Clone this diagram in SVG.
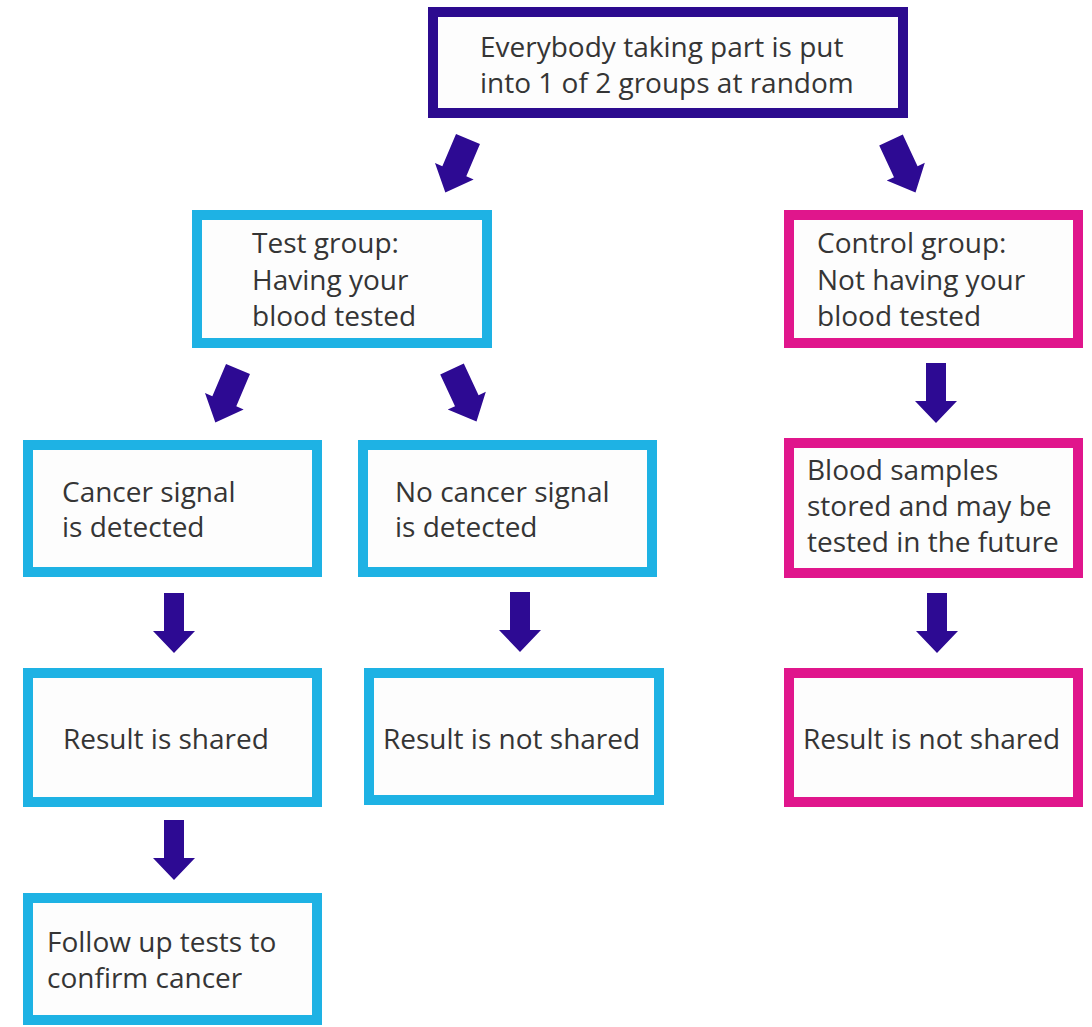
<svg xmlns="http://www.w3.org/2000/svg" width="1092" height="1027" viewBox="0 0 1092 1027">
  <style>
    .box { fill: #fdfdfd; stroke-width: 10; }
    .purple { stroke: #2c0b8f; }
    .cyan { stroke: #1eb2e4; }
    .pink { stroke: #e0168c; }
    .label { font-family: "Open Sans", "Liberation Sans", sans-serif; font-size: 28px; fill: #353535; }
    .arrow { fill: #2d0a93; }
  </style>
  <defs>
    <!-- block arrow pointing down, origin at top centre of shaft -->
    <path id="arrowDown" d="M -10 0 H 10 V 38 H 21 L 0 60 L -21 38 H -10 Z"/>
    <!-- wider block arrow used for the slanted connectors -->
    <path id="arrowSlant" d="M -13 0 H 13 V 35 H 21 L 0 58 L -21 35 H -13 Z"/>
  </defs>
  <rect width="1092" height="1027" fill="#ffffff"/>

  <g id="start">
    <rect class="box purple" x="433" y="12" width="470" height="101"/>
    <text class="label" x="480" y="57">Everybody taking part is put</text>
    <text class="label" x="480" y="93">into 1 of 2 groups at random</text>
  </g>

  <g id="test-group">
    <rect class="box cyan" x="197" y="215" width="290" height="128"/>
    <text class="label" x="252" y="253">Test group:</text>
    <text class="label" x="252" y="290">Having your</text>
    <text class="label" x="252" y="326">blood tested</text>
  </g>

  <g id="control-group">
    <rect class="box pink" x="789" y="215" width="289" height="128"/>
    <text class="label" x="817" y="253">Control group:</text>
    <text class="label" x="817" y="290">Not having your</text>
    <text class="label" x="817" y="326">blood tested</text>
  </g>

  <g id="signal-detected">
    <rect class="box cyan" x="28" y="445" width="289" height="127"/>
    <text class="label" x="62" y="502">Cancer signal</text>
    <text class="label" x="62" y="537">is detected</text>
  </g>

  <g id="no-signal">
    <rect class="box cyan" x="363" y="445" width="289" height="127"/>
    <text class="label" x="395" y="502">No cancer signal</text>
    <text class="label" x="395" y="537">is detected</text>
  </g>

  <g id="samples-stored">
    <rect class="box pink" x="789" y="443" width="289" height="130"/>
    <text class="label" x="807" y="480">Blood samples</text>
    <text class="label" x="807" y="516">stored and may be</text>
    <text class="label" x="807" y="552">tested in the future</text>
  </g>

  <g id="result-shared">
    <rect class="box cyan" x="28" y="673" width="289" height="129"/>
    <text class="label" x="63" y="749">Result is shared</text>
  </g>

  <g id="result-not-shared-test">
    <rect class="box cyan" x="369" y="673" width="290" height="127"/>
    <text class="label" x="383" y="749">Result is not shared</text>
  </g>

  <g id="result-not-shared-control">
    <rect class="box pink" x="789" y="673" width="289" height="129"/>
    <text class="label" x="803" y="749">Result is not shared</text>
  </g>

  <g id="follow-up">
    <rect class="box cyan" x="28" y="898" width="289" height="122"/>
    <text class="label" x="47" y="952">Follow up tests to</text>
    <text class="label" x="47" y="988">confirm cancer</text>
  </g>

  <g id="connectors" class="arrow">
    <use href="#arrowSlant" transform="translate(468 139) rotate(23)"/>
    <use href="#arrowSlant" transform="translate(891 140) rotate(-25)"/>
    <use href="#arrowSlant" transform="translate(238 369) rotate(23)"/>
    <use href="#arrowSlant" transform="translate(452 369) rotate(-25)"/>
    <use href="#arrowDown" transform="translate(936 363)"/>
    <use href="#arrowDown" transform="translate(174 593)"/>
    <use href="#arrowDown" transform="translate(520 592)"/>
    <use href="#arrowDown" transform="translate(937 593)"/>
    <use href="#arrowDown" transform="translate(174 820)"/>
  </g>
</svg>
